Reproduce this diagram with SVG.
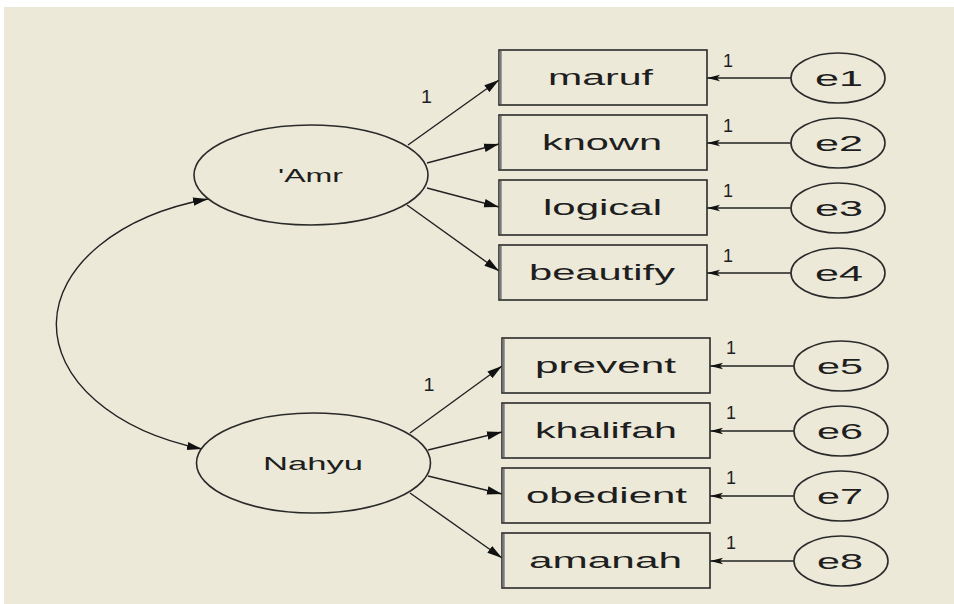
<svg xmlns="http://www.w3.org/2000/svg" width="954" height="604" viewBox="0 0 954 604">
  <defs>
    <marker id="head" markerUnits="userSpaceOnUse" markerWidth="16" markerHeight="10" refX="15" refY="5" orient="auto-start-reverse">
      <path d="M0,0.8 L15,5 L0,9.2 z" fill="#111"/>
    </marker>
    <marker id="headSmall" markerUnits="userSpaceOnUse" markerWidth="14" markerHeight="8" refX="13" refY="4" orient="auto">
      <path d="M0,0.8 L13,4 L0,7.2 L3,4 z" fill="#111"/>
    </marker>
    <style>
      .box { fill: #ECE9D8; stroke: #2a2a2a; stroke-width: 1.6; }
      .edge { stroke: #7a7a7a; stroke-width: 2.4; }
      .oval { fill: #ECE9D8; stroke: #2a2a2a; stroke-width: 1.6; }
      .line { fill: none; stroke: #222; stroke-width: 1.4; }
      .reg { marker-end: url(#head); }
      .err { marker-end: url(#headSmall); }
      text { font-family: "Liberation Sans", Arial, sans-serif; fill: #1e1e1e; text-anchor: middle; }
      .lbl { font-size: 22px; }
      .lat { font-size: 18px; }
      .one { font-size: 19px; }
    </style>
  </defs>

  <!-- canvas -->
  <rect x="0" y="0" width="954" height="604" fill="#ffffff"/>
  <rect x="4" y="7" width="950" height="597" fill="#ECE9D8"/>

  <!-- connectors -->
  <g id="connectors">
    <!-- covariance between the two factors -->
    <path class="line" d="M208,199 A212,131 0 0 0 202,449" marker-start="url(#head)" marker-end="url(#head)"/>
    <!-- 'Amr loadings -->
    <line class="line reg" x1="408" y1="145" x2="499" y2="80"/>
    <line class="line reg" x1="427" y1="163" x2="499" y2="144"/>
    <line class="line reg" x1="427" y1="188" x2="499" y2="207"/>
    <line class="line reg" x1="407" y1="205" x2="499" y2="271"/>
    <!-- Nahyu loadings -->
    <line class="line reg" x1="410" y1="433" x2="502" y2="366"/>
    <line class="line reg" x1="428" y1="450" x2="502" y2="432"/>
    <line class="line reg" x1="428" y1="476" x2="502" y2="494"/>
    <line class="line reg" x1="410" y1="493" x2="502" y2="558"/>
    <!-- error terms -->
    <line class="line err" x1="791" y1="78" x2="707" y2="78"/>
    <line class="line err" x1="791" y1="143" x2="707" y2="143"/>
    <line class="line err" x1="791" y1="208" x2="707" y2="208"/>
    <line class="line err" x1="791" y1="273" x2="707" y2="273"/>
    <line class="line err" x1="794" y1="366" x2="710" y2="366"/>
    <line class="line err" x1="794" y1="431" x2="710" y2="431"/>
    <line class="line err" x1="794" y1="496" x2="710" y2="496"/>
    <line class="line err" x1="794" y1="561" x2="710" y2="561"/>
    <!-- fixed weights -->
    <text class="one" x="426.5" y="103" textLength="11" lengthAdjust="spacingAndGlyphs">1</text>
    <text class="one" x="429" y="391" textLength="11" lengthAdjust="spacingAndGlyphs">1</text>
    <text class="one" x="728" y="67" textLength="10" lengthAdjust="spacingAndGlyphs">1</text>
    <text class="one" x="728" y="132" textLength="10" lengthAdjust="spacingAndGlyphs">1</text>
    <text class="one" x="728" y="197" textLength="10" lengthAdjust="spacingAndGlyphs">1</text>
    <text class="one" x="728" y="262" textLength="10" lengthAdjust="spacingAndGlyphs">1</text>
    <text class="one" x="731" y="354" textLength="10" lengthAdjust="spacingAndGlyphs">1</text>
    <text class="one" x="731" y="419" textLength="10" lengthAdjust="spacingAndGlyphs">1</text>
    <text class="one" x="731" y="484" textLength="10" lengthAdjust="spacingAndGlyphs">1</text>
    <text class="one" x="731" y="549" textLength="10" lengthAdjust="spacingAndGlyphs">1</text>
  </g>

  <!-- latent factors -->
  <g id="amr">
    <ellipse class="oval" cx="311" cy="175" rx="117" ry="50"/>
    <text class="lat" x="310.5" y="182" textLength="65" lengthAdjust="spacingAndGlyphs">'Amr</text>
  </g>
  <g id="nahyu">
    <ellipse class="oval" cx="313.5" cy="463" rx="117" ry="50"/>
    <text class="lat" x="313" y="470" textLength="100" lengthAdjust="spacingAndGlyphs">Nahyu</text>
  </g>

  <!-- observed indicators -->
  <g id="maruf">
    <rect class="box" x="499" y="50" width="208" height="55"/>
    <line class="edge" x1="500.5" y1="51" x2="500.5" y2="104"/>
    <text class="lbl" x="600.5" y="85" textLength="105" lengthAdjust="spacingAndGlyphs">maruf</text>
  </g>
  <g id="known">
    <rect class="box" x="499" y="115" width="208" height="55"/>
    <line class="edge" x1="500.5" y1="116" x2="500.5" y2="169"/>
    <text class="lbl" x="602" y="150" textLength="120" lengthAdjust="spacingAndGlyphs">known</text>
  </g>
  <g id="logical">
    <rect class="box" x="499" y="180" width="208" height="55"/>
    <line class="edge" x1="500.5" y1="181" x2="500.5" y2="234"/>
    <text class="lbl" x="602.5" y="215" textLength="119" lengthAdjust="spacingAndGlyphs">logical</text>
  </g>
  <g id="beautify">
    <rect class="box" x="499" y="245" width="208" height="55"/>
    <line class="edge" x1="500.5" y1="246" x2="500.5" y2="299"/>
    <text class="lbl" x="602" y="280" textLength="146" lengthAdjust="spacingAndGlyphs">beautify</text>
  </g>
  <g id="prevent">
    <rect class="box" x="502" y="338" width="208" height="55"/>
    <line class="edge" x1="503.5" y1="339" x2="503.5" y2="392"/>
    <text class="lbl" x="605.5" y="373" textLength="141" lengthAdjust="spacingAndGlyphs">prevent</text>
  </g>
  <g id="khalifah">
    <rect class="box" x="502" y="403" width="208" height="55"/>
    <line class="edge" x1="503.5" y1="404" x2="503.5" y2="457"/>
    <text class="lbl" x="606" y="438" textLength="142" lengthAdjust="spacingAndGlyphs">khalifah</text>
  </g>
  <g id="obedient">
    <rect class="box" x="502" y="468" width="208" height="55"/>
    <line class="edge" x1="503.5" y1="469" x2="503.5" y2="522"/>
    <text class="lbl" x="606.5" y="503" textLength="161" lengthAdjust="spacingAndGlyphs">obedient</text>
  </g>
  <g id="amanah">
    <rect class="box" x="502" y="533" width="208" height="55"/>
    <line class="edge" x1="503.5" y1="534" x2="503.5" y2="587"/>
    <text class="lbl" x="605.5" y="568" textLength="153" lengthAdjust="spacingAndGlyphs">amanah</text>
  </g>

  <!-- error terms -->
  <g id="e1"><ellipse class="oval" cx="838" cy="78" rx="47" ry="25"/><text class="lbl" x="839" y="86" textLength="48" lengthAdjust="spacingAndGlyphs">e1</text></g>
  <g id="e2"><ellipse class="oval" cx="838" cy="143" rx="47" ry="25"/><text class="lbl" x="839" y="151" textLength="48" lengthAdjust="spacingAndGlyphs">e2</text></g>
  <g id="e3"><ellipse class="oval" cx="838" cy="208" rx="47" ry="25"/><text class="lbl" x="839" y="216" textLength="48" lengthAdjust="spacingAndGlyphs">e3</text></g>
  <g id="e4"><ellipse class="oval" cx="838" cy="273" rx="47" ry="25"/><text class="lbl" x="839" y="281" textLength="48" lengthAdjust="spacingAndGlyphs">e4</text></g>
  <g id="e5"><ellipse class="oval" cx="841" cy="366" rx="47" ry="25"/><text class="lbl" x="840" y="374" textLength="46" lengthAdjust="spacingAndGlyphs">e5</text></g>
  <g id="e6"><ellipse class="oval" cx="841" cy="431" rx="47" ry="25"/><text class="lbl" x="840" y="439" textLength="46" lengthAdjust="spacingAndGlyphs">e6</text></g>
  <g id="e7"><ellipse class="oval" cx="841" cy="496" rx="47" ry="25"/><text class="lbl" x="840" y="504" textLength="46" lengthAdjust="spacingAndGlyphs">e7</text></g>
  <g id="e8"><ellipse class="oval" cx="841" cy="561" rx="47" ry="25"/><text class="lbl" x="840" y="569" textLength="46" lengthAdjust="spacingAndGlyphs">e8</text></g>
</svg>
